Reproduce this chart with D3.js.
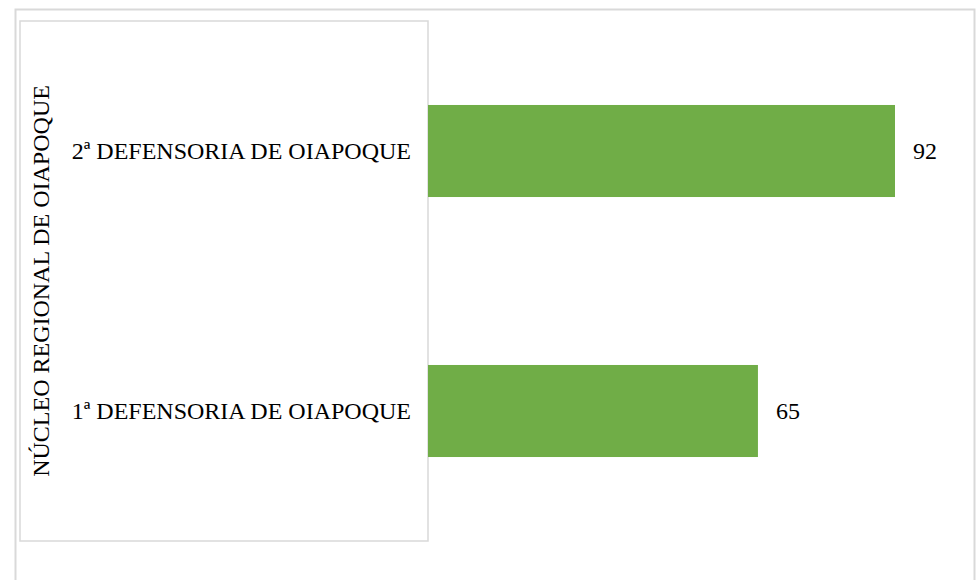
<!DOCTYPE html>
<html>
<head>
<meta charset="utf-8">
<script src="https://cdn.jsdelivr.net/npm/d3@7"></script>
</head>
<body style="margin:0">
<script>
// data
const categories = ["2ª DEFENSORIA DE OIAPOQUE", "1ª DEFENSORIA DE OIAPOQUE"];
const values = [92, 65];
const groupLabel = "NÚCLEO REGIONAL DE OIAPOQUE";

const width = 980, height = 580;
const fontSize = 24;

const svg = d3.select("body")
  .append("svg")
  .attr("width", width)
  .attr("height", height)
  .attr("font-family", "Liberation Serif")
  .attr("font-size", fontSize + "px");

// outer frame
svg.append("rect")
  .attr("x", 15.5).attr("y", 9.5)
  .attr("width", 959).attr("height", 600)
  .attr("fill", "none")
  .attr("stroke", "#d9d9d9")
  .attr("stroke-width", 2);

// category box on the left
svg.append("rect")
  .attr("x", 20).attr("y", 21)
  .attr("width", 408).attr("height", 520)
  .attr("fill", "none")
  .attr("stroke", "#d9d9d9")
  .attr("stroke-width", 1.5);

// scales
const x = d3.scaleLinear()
  .domain([0, 100])
  .range([428, 935.6]);

const y = d3.scaleBand()
  .domain(categories)
  .range([21, 541])
  .paddingInner(0.646)
  .paddingOuter(0.323);

// bars
svg.selectAll("rect.bar")
  .data(values)
  .enter()
  .append("rect")
  .attr("class", "bar")
  .attr("x", x(0))
  .attr("y", (d, i) => y(categories[i]))
  .attr("width", d => x(d) - x(0))
  .attr("height", y.bandwidth())
  .attr("fill", "#70ad47");

// value labels
svg.selectAll("text.val")
  .data(values)
  .enter()
  .append("text")
  .attr("class", "val")
  .attr("font-family", "Liberation Serif")
  .attr("x", d => x(d) + 18)
  .attr("y", (d, i) => y(categories[i]) + y.bandwidth() / 2 + fontSize * 0.33)
  .text(d => d);

// category labels
svg.selectAll("text.cat")
  .data(categories)
  .enter()
  .append("text")
  .attr("class", "cat")
  .attr("font-family", "Liberation Serif")
  .attr("x", 411)
  .attr("y", d => y(d) + y.bandwidth() / 2 + fontSize * 0.33)
  .attr("text-anchor", "end")
  .text(d => d);

// group label, rotated
svg.append("text")
  .attr("font-family", "Liberation Serif")
  .attr("transform", "translate(" + (41 + fontSize * 0.33) + ", 281) rotate(-90)")
  .attr("text-anchor", "middle")
  .text(groupLabel);
</script>
</body>
</html>
